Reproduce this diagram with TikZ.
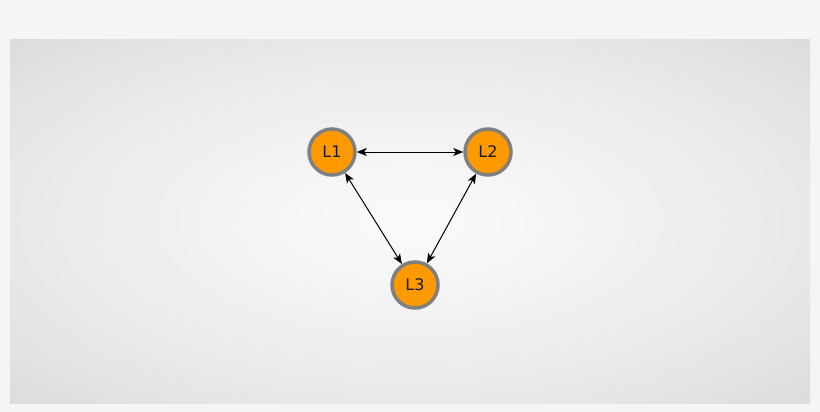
\documentclass[tikz,border=0pt]{standalone}
\usepackage{fontspec}
\setmainfont{DejaVu Sans}
\usetikzlibrary{arrows.meta}
\definecolor{pagebg}{HTML}{F5F5F5}
\definecolor{nodefill}{HTML}{FF9900}
\definecolor{nodeline}{HTML}{808080}
\definecolor{txt}{HTML}{1A1A1A}
\pgfdeclareradialshading{panelshade}{\pgfpoint{0bp}{0bp}}{%
  color(0bp)=(white!98!black);
  color(6bp)=(white!97!black);
  color(25bp)=(white!91!black);
  color(36bp)=(white!86!black);
  color(50bp)=(white!86!black)}
\tikzset{
  lnode/.style={circle, draw=nodeline, line width=3.5pt, fill=nodefill,
    minimum size=46pt, inner sep=0pt, text=txt,
    font=\fontsize{16}{19}\selectfont},
  link/.style={{Stealth[length=10pt,width=8pt,inset=2.5pt]}-{Stealth[length=10pt,width=8pt,inset=2.5pt]}, line width=1pt, black}
}
\begin{document}
\begin{tikzpicture}[x=1pt,y=-1pt]
  \fill[pagebg] (0,0) rectangle (820,412);
  \useasboundingbox (0,0) rectangle (820,412);
  \shade[shading=panelshade] (10,40) rectangle (810,403);
  \node[lnode] (L1) at (332,152) {L1};
  \node[lnode] (L2) at (488,152) {L2};
  \node[lnode] (L3) at (415,285) {L3};
  \draw[link] (L1) -- (L2);
  \draw[link] (L1) -- (L3);
  \draw[link] (L2) -- (L3);
\end{tikzpicture}
\end{document}
